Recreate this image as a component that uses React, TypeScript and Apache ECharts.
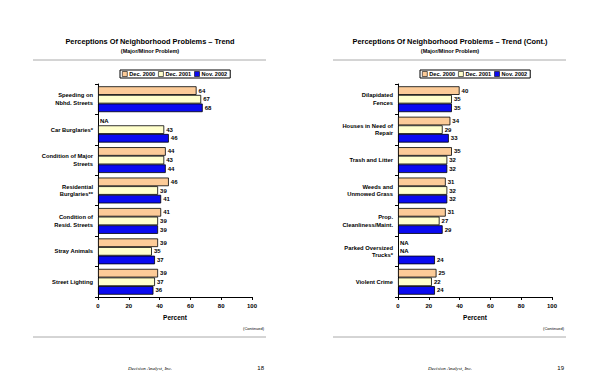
import React, { useEffect, useRef } from "react";
import * as echarts from "echarts";

const leftCategories = [
  "Speeding on\nNbhd. Streets",
  "Car Burglaries*",
  "Condition of Major\nStreets",
  "Residential\nBurglaries**",
  "Condition of\nResid. Streets",
  "Stray Animals",
  "Street Lighting",
];
const leftDec2000: (number | null)[] = [64, null, 44, 46, 41, 39, 39];
const leftDec2001: (number | null)[] = [67, 43, 43, 39, 39, 35, 37];
const leftNov2002: (number | null)[] = [68, 46, 44, 41, 39, 37, 36];

const rightCategories = [
  "Dilapidated\nFences",
  "Houses in Need of\nRepair",
  "Trash and Litter",
  "Weeds and\nUnmowed Grass",
  "Prop.\nCleanliness/Maint.",
  "Parked Oversized\nTrucks*",
  "Violent Crime",
];
const rightDec2000: (number | null)[] = [40, 34, 35, 31, 31, null, 25];
const rightDec2001: (number | null)[] = [35, 29, 32, 32, 27, null, 22];
const rightNov2002: (number | null)[] = [35, 33, 32, 32, 29, 24, 24];

const seriesNames = ["Dec. 2000", "Dec. 2001", "Nov. 2002"];
const seriesColors = ["#FCCB98", "#FFFFCC", "#0A0AF0"];
const xTicks = [0, 20, 40, 60, 80, 100];

const FONT = "'Liberation Sans', Arial, sans-serif";

function toItems(values: (number | null)[]) {
  return values.map((v) =>
    v === null
      ? {
          value: 0,
          itemStyle: { borderWidth: 0, color: "rgba(0,0,0,0)" },
          label: { formatter: "NA", show: true },
        }
      : { value: v }
  );
}

export default function App() {
  const ref = useRef<HTMLDivElement>(null);
  useEffect(() => {
    if (!ref.current) return;
    const chart = echarts.init(ref.current, null, { renderer: "svg" });
    const grids = [
      { left: 98, top: 84, width: 154, height: 213 },
      { left: 398, top: 84, width: 154, height: 213 },
    ];
    const mkX = (gi: number) => ({
      type: "value",
      gridIndex: gi,
      min: 0,
      max: 100,
      interval: 20,
      splitLine: { show: false },
      axisLine: { show: true, lineStyle: { color: "#000", width: 1 } },
      axisTick: { show: true, length: 3, lineStyle: { color: "#000" } },
      axisLabel: {
        fontFamily: FONT,
        fontSize: 6,
        fontWeight: "bold",
        color: "#000",
        margin: 6,
        formatter: (v: number) => (xTicks.includes(v) ? String(v) : ""),
      },
      name: "Percent",
      nameLocation: "middle",
      nameGap: 17,
      nameTextStyle: { fontFamily: FONT, fontSize: 6.5, fontWeight: "bold", color: "#000" },
    });
    const mkY = (gi: number, cats: string[]) => ({
      type: "category",
      gridIndex: gi,
      data: cats,
      inverse: true,
      axisLine: { show: true, lineStyle: { color: "#000", width: 1 } },
      axisTick: { show: true, length: 3, lineStyle: { color: "#000" } },
      axisLabel: {
        fontFamily: FONT,
        fontSize: 5.8,
        fontWeight: "bold",
        color: "#000",
        margin: 5,
        align: "right",
        lineHeight: 7.5,
      },
    });
    const mkSeries = (gi: number, idx: number, vals: (number | null)[]) => ({
      type: "bar",
      name: seriesNames[idx],
      xAxisIndex: gi,
      yAxisIndex: gi,
      data: toItems(vals),
      barGap: "0%",
      barCategoryGap: "15%",
      itemStyle: { color: seriesColors[idx], borderColor: "#000", borderWidth: 0.8 },
      label: {
        show: true,
        position: "right",
        distance: 2,
        fontFamily: FONT,
        fontSize: 6,
        fontWeight: "bold",
        color: "#000",
      },
    });
    const mkLegend = (left: number) => ({
      left,
      top: 70,
      orient: "horizontal",
      itemWidth: 5,
      itemHeight: 5,
      itemGap: 3,
      padding: [1, 3, 1, 2],
      borderColor: "#000",
      borderWidth: 1,
      icon: "rect",
      selectedMode: false,
      data: seriesNames,
      itemStyle: { borderColor: "#000", borderWidth: 0.6 },
      textStyle: { fontFamily: FONT, fontSize: 5.6, fontWeight: "bold", color: "#000", padding: [0, 0, 0, -3] },
    });
    const hrule = (x1: number, x2: number, y: number) => ({
      type: "line",
      shape: { x1, y1: y, x2, y2: y },
      style: { stroke: "#aaaaaa", lineWidth: 1 },
    });
    const txt = (x: number, y: number, text: string, style: any) => ({
      type: "text",
      x,
      y,
      style: { text, ...style },
    });
    chart.setOption({
      animation: false,
      backgroundColor: "#fff",
      textStyle: { color: "#000", fontFamily: FONT },
      grid: grids,
      xAxis: [mkX(0), mkX(1)],
      yAxis: [mkY(0, leftCategories), mkY(1, rightCategories)],
      legend: [mkLegend(120), mkLegend(420)],
      series: [
        mkSeries(0, 0, leftDec2000),
        mkSeries(0, 1, leftDec2001),
        mkSeries(0, 2, leftNov2002),
        mkSeries(1, 0, rightDec2000),
        mkSeries(1, 1, rightDec2001),
        mkSeries(1, 2, rightNov2002),
      ],
      graphic: [
        txt(150, 41, "Perceptions Of Neighborhood Problems – Trend", { align: "center", verticalAlign: "middle", fill: "#000", font: `bold 7.4px ${FONT}` }),
        txt(150, 51, "(Major/Minor Problem)", { align: "center", verticalAlign: "middle", fill: "#000", font: `bold 5.5px ${FONT}` }),
        txt(450, 41, "Perceptions Of Neighborhood Problems – Trend (Cont.)", { align: "center", verticalAlign: "middle", fill: "#000", font: `bold 7.4px ${FONT}` }),
        txt(450, 51, "(Major/Minor Problem)", { align: "center", verticalAlign: "middle", fill: "#000", font: `bold 5.5px ${FONT}` }),
        hrule(33, 266, 60),
        hrule(333, 566, 60),
        hrule(33, 266, 337),
        hrule(333, 566, 337),
        txt(264, 328, "(Continued)", { align: "right", verticalAlign: "middle", fill: "#000", font: `4px ${FONT}` }),
        txt(564, 328, "(Continued)", { align: "right", verticalAlign: "middle", fill: "#000", font: `4px ${FONT}` }),
        txt(150, 368, "Decision Analyst, Inc.", { align: "center", verticalAlign: "middle", fill: "#000", font: `italic 5px 'Liberation Serif', serif` }),
        txt(450, 368, "Decision Analyst, Inc.", { align: "center", verticalAlign: "middle", fill: "#000", font: `italic 5px 'Liberation Serif', serif` }),
        txt(264, 368, "18", { align: "right", verticalAlign: "middle", fill: "#000", font: `6px ${FONT}` }),
        txt(564, 368, "19", { align: "right", verticalAlign: "middle", fill: "#000", font: `6px ${FONT}` }),
      ],
    });
    return () => chart.dispose();
  }, []);
  return (
    <div
      ref={ref}
      style={{ position: "fixed", left: 0, top: 0, width: 600, height: 388, background: "#fff" }}
    />
  );
}
